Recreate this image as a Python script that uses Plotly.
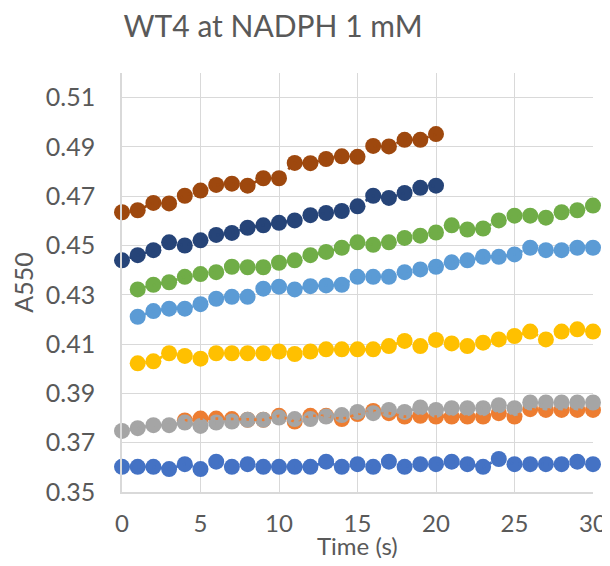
import plotly.graph_objects as go

# Time points (s)
T_ALL = list(range(0, 31))

# A550 readings per replicate
blue = [0.3602, 0.3602, 0.3602, 0.3593, 0.3613, 0.3593, 0.3623, 0.3602, 0.3613, 0.3602,
        0.3602, 0.3602, 0.3602, 0.3623, 0.3602, 0.3613, 0.3602, 0.3623, 0.3602, 0.3613,
        0.3613, 0.3623, 0.3613, 0.3602, 0.3634, 0.3613, 0.3613, 0.3613, 0.3613, 0.3623,
        0.3613]
orange_t = list(range(4, 31))
orange = [0.3790, 0.3798, 0.3798, 0.3796, 0.3793, 0.3793, 0.3809, 0.3786, 0.3809, 0.3809,
          0.3796, 0.3816, 0.3829, 0.3820, 0.3806, 0.3809, 0.3806, 0.3806, 0.3806, 0.3806,
          0.3820, 0.3806, 0.3836, 0.3833, 0.3833, 0.3833, 0.3833]
gray = [0.3748, 0.3759, 0.3771, 0.3771, 0.3782, 0.3768, 0.3782, 0.3786, 0.3793, 0.3793,
        0.3802, 0.3796, 0.3796, 0.3806, 0.3812, 0.3825, 0.3820, 0.3833, 0.3825, 0.3843,
        0.3833, 0.3840, 0.3840, 0.3840, 0.3852, 0.3840, 0.3863, 0.3863, 0.3863, 0.3863,
        0.3863]
T_FROM1 = list(range(1, 31))
yellow = [0.4022, 0.4030, 0.4063, 0.4052, 0.4041, 0.4063, 0.4063, 0.4063, 0.4063, 0.4070,
          0.4060, 0.4070, 0.4079, 0.4079, 0.4079, 0.4079, 0.4092, 0.4113, 0.4092, 0.4117,
          0.4103, 0.4092, 0.4106, 0.4119, 0.4133, 0.4151, 0.4119, 0.4151, 0.4160, 0.4151]
lightblue = [0.4211, 0.4234, 0.4244, 0.4244, 0.4262, 0.4284, 0.4292, 0.4292, 0.4325, 0.4333,
             0.4322, 0.4335, 0.4338, 0.4341, 0.4373, 0.4373, 0.4373, 0.4392, 0.4403, 0.4414,
             0.4432, 0.4440, 0.4454, 0.4454, 0.4464, 0.4491, 0.4481, 0.4481, 0.4491, 0.4491]
green = [0.4322, 0.4341, 0.4351, 0.4373, 0.4384, 0.4392, 0.4414, 0.4412, 0.4412, 0.4430,
         0.4440, 0.4461, 0.4474, 0.4491, 0.4513, 0.4503, 0.4513, 0.4531, 0.4540, 0.4553,
         0.4582, 0.4565, 0.4569, 0.4602, 0.4621, 0.4621, 0.4613, 0.4635, 0.4643, 0.4662]
T_TO20 = list(range(0, 21))
navy = [0.4440, 0.4461, 0.4481, 0.4513, 0.4500, 0.4521, 0.4543, 0.4551, 0.4572, 0.4582,
        0.4592, 0.4602, 0.4623, 0.4632, 0.4640, 0.4659, 0.4702, 0.4693, 0.4713, 0.4734,
        0.4743]
brown = [0.4635, 0.4643, 0.4673, 0.4671, 0.4702, 0.4723, 0.4746, 0.4751, 0.4743, 0.4773,
         0.4773, 0.4835, 0.4834, 0.4851, 0.4862, 0.4860, 0.4904, 0.4902, 0.4929, 0.4929,
         0.4952]

SERIES = [
    (T_ALL, blue, "#4472C4"),
    (orange_t, orange, "#ED7D31"),
    (T_ALL, gray, "#A5A5A5"),
    (T_FROM1, yellow, "#FFC000"),
    (T_FROM1, lightblue, "#5B9BD5"),
    (T_FROM1, green, "#70AD47"),
    (T_TO20, navy, "#264478"),
    (T_TO20, brown, "#9E480E"),
]

TEXT = "#595959"
GRID = "#D9D9D9"
FONT = "Lato"
# the page body keeps its default 8px margin; size the figure so the
# 610x566 window shows it without scrollbars
PAD = 8
W, H = 610 - 2 * PAD, 566 - 2 * PAD

fig = go.Figure()
# markers first, then the dotted connecting lines on top (Excel look)
for x, y, c in SERIES:
    fig.add_trace(go.Scatter(x=x, y=y, mode="markers", cliponaxis=False,
                             marker=dict(size=16, color=c), showlegend=False))
for x, y, c in SERIES:
    fig.add_trace(go.Scatter(x=x, y=y, mode="lines", cliponaxis=False,
                             line=dict(color=c, width=2.7, dash="2.7px,5px"),
                             showlegend=False))

fig.update_layout(
    width=W, height=H,
    paper_bgcolor="white", plot_bgcolor="white",
    margin=dict(l=122 - PAD, r=W - (593 - PAD), t=73 - PAD, b=H - (492 - PAD)),
    font=dict(family=FONT, color=TEXT),
    title=dict(text="WT4 at NADPH 1 mM", x=(273 - PAD) / W, xanchor="center",
               y=1 - (26 - PAD) / H, yanchor="middle",
               font=dict(size=30, color=TEXT, family=FONT)),
    annotations=[dict(text="Time (s)", xref="paper", yref="paper", x=0.5, y=0,
                      yshift=-53, xanchor="center", yanchor="middle", borderpad=0,
                      showarrow=False, font=dict(size=24, color=TEXT))],
)
fig.update_xaxes(
    range=[0, 30], tick0=0, dtick=5, showgrid=True, gridcolor=GRID, gridwidth=1.3,
    zeroline=False, showline=True, linecolor=GRID, linewidth=1.5, automargin=False,
    ticks="", ticklabelstandoff=9, ticklabeloverflow="allow",
    tickfont=dict(size=24, color=TEXT),
)
fig.update_yaxes(
    range=[0.35, 0.52], tick0=0.35, dtick=0.02, tickformat=".2f",
    showgrid=True, gridcolor=GRID, gridwidth=1.3,
    zeroline=False, showline=True, linecolor=GRID, linewidth=1.5, automargin=False,
    ticks="", ticklabelstandoff=20, tickfont=dict(size=25, color=TEXT),
    title=dict(text="A550", font=dict(size=25, color=TEXT), standoff=8),
)

fig.write_html("out.html")
